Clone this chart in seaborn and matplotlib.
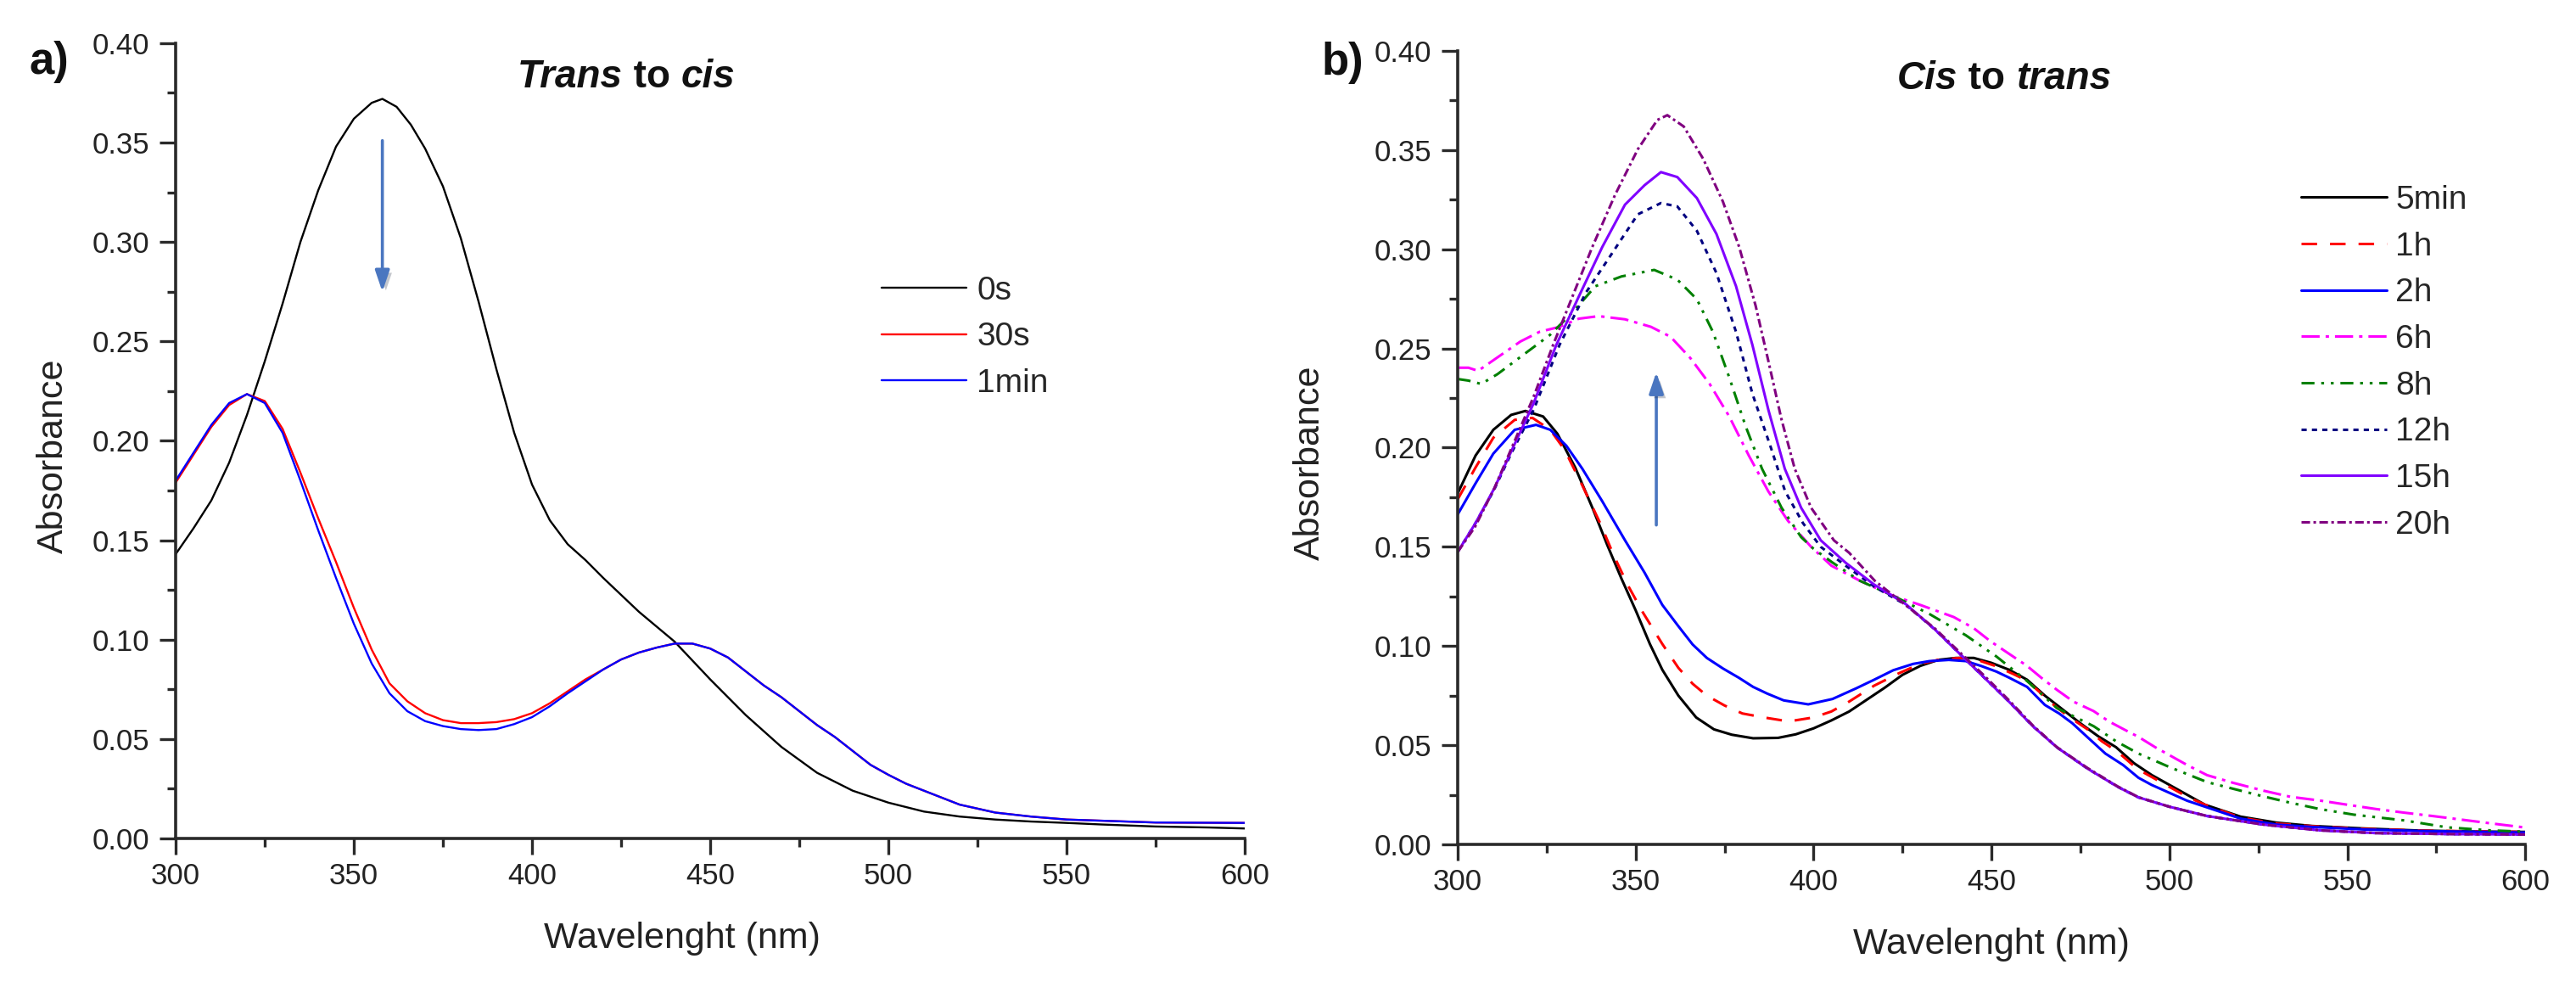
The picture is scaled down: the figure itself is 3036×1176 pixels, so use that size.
import matplotlib
matplotlib.use("Agg")
import matplotlib.pyplot as plt
import matplotlib.patheffects as pe
from matplotlib.ticker import MultipleLocator, FormatStrFormatter
import pandas as pd
import seaborn as sns

# ---------------- panel a: trans -> cis ----------------
a_labels = ["0s", "30s", "1min"]

a_wl_0s = [300, 305, 310, 315, 320, 325, 330, 335, 340, 345, 350, 355, 358, 362,
           366, 370, 375, 380, 385, 390, 395, 400, 405, 410, 415, 420, 430, 440,
           450, 460, 470, 480, 490, 500, 510, 520, 530, 540, 550, 560, 575, 590, 600]
a_abs_0s = [0.143, 0.156, 0.170, 0.189, 0.213, 0.240, 0.269, 0.300, 0.326, 0.348,
            0.362, 0.370, 0.372, 0.368, 0.359, 0.347, 0.328, 0.302, 0.270, 0.236,
            0.204, 0.178, 0.160, 0.148, 0.140, 0.131, 0.114, 0.099, 0.080, 0.062,
            0.046, 0.033, 0.024, 0.018, 0.0135, 0.011, 0.0095, 0.0085, 0.0078,
            0.007, 0.006, 0.0055, 0.005]

a_wl_30s = [300, 305, 310, 315, 320, 325, 330, 335, 340, 345, 350, 355, 360, 365,
            370, 375, 380, 385, 390, 395, 400, 405, 410, 415, 420, 425, 430, 435,
            440, 445, 450, 455, 460, 465, 470, 475, 480, 485, 490, 495, 500, 505,
            510, 520, 530, 540, 550, 575, 600]
a_abs_30s = [0.179, 0.193, 0.207, 0.218, 0.2235, 0.220, 0.206, 0.184, 0.161, 0.139,
             0.116, 0.095, 0.078, 0.069, 0.063, 0.0595, 0.058, 0.058, 0.0585, 0.060,
             0.063, 0.068, 0.074, 0.080, 0.085, 0.090, 0.0935, 0.096, 0.098, 0.098,
             0.0955, 0.091, 0.084, 0.077, 0.071, 0.064, 0.057, 0.051, 0.044, 0.037,
             0.032, 0.0275, 0.024, 0.017, 0.013, 0.011, 0.0095, 0.008, 0.0078]

a_wl_1min = a_wl_30s
a_abs_1min = [0.180, 0.194, 0.208, 0.219, 0.2235, 0.219, 0.204, 0.180, 0.155, 0.131,
              0.108, 0.088, 0.073, 0.064, 0.059, 0.0565, 0.055, 0.0545, 0.055, 0.0575,
              0.061, 0.0665, 0.073, 0.079, 0.085, 0.090, 0.0935, 0.096, 0.098, 0.098,
              0.0955, 0.091, 0.084, 0.077, 0.071, 0.064, 0.057, 0.051, 0.044, 0.037,
              0.032, 0.0275, 0.024, 0.017, 0.013, 0.011, 0.0095, 0.008, 0.0078]

# ---------------- panel b: cis -> trans ----------------
b_labels = ["5min", "1h", "2h", "6h", "8h", "12h", "15h", "20h"]

b_wl_5min = [300, 305, 310, 315, 319, 324, 328, 333, 338, 342, 346, 350, 354, 357.5,
             362, 367, 372, 377, 383, 390, 395, 400, 405, 410, 415, 420, 425, 430,
             435, 440, 445, 450, 455, 460, 465, 470, 475, 480, 485, 490, 495, 500,
             505, 510, 520, 530, 540, 555, 570, 585, 600]
b_abs_5min = [0.177, 0.196, 0.209, 0.2165, 0.2185, 0.2157, 0.207, 0.190, 0.169, 0.151,
              0.134, 0.118, 0.101, 0.088, 0.075, 0.064, 0.058, 0.0553, 0.0535, 0.0537,
              0.0555, 0.0585, 0.0625, 0.067, 0.073, 0.079, 0.0855, 0.090, 0.093, 0.094,
              0.094, 0.0915, 0.088, 0.083, 0.075, 0.068, 0.061, 0.0545, 0.049, 0.041,
              0.035, 0.030, 0.025, 0.020, 0.014, 0.011, 0.0093, 0.008, 0.007, 0.0065,
              0.0063]

b_wl_1h = [300, 305, 310, 316, 321, 326, 330, 335, 340, 344, 348, 352, 357.5, 362,
           366, 370, 375, 380, 386, 393, 400, 405, 410, 417, 424, 430, 435, 441, 446,
           451, 456, 460, 464, 468, 472, 477, 481, 485.5, 491, 495, 500, 505, 510,
           520, 530, 540, 555, 570, 585, 600]
b_abs_1h = [0.174, 0.190, 0.205, 0.214, 0.215, 0.209, 0.199, 0.181, 0.162, 0.145,
            0.130, 0.117, 0.101, 0.089, 0.081, 0.075, 0.070, 0.066, 0.064, 0.062,
            0.064, 0.067, 0.072, 0.080, 0.0863, 0.091, 0.093, 0.094, 0.093, 0.090,
            0.086, 0.0825, 0.076, 0.0695, 0.064, 0.058, 0.052, 0.0466, 0.038, 0.034,
            0.029, 0.024, 0.020, 0.0135, 0.0105, 0.0092, 0.0078, 0.007, 0.0066, 0.0063]

b_wl_2h = [300, 305, 310, 316, 322, 326, 330.5, 335, 340.6, 347, 352.5, 357.5, 362,
           366, 370, 374.6, 379, 383, 387, 391.6, 398.5, 405.3, 412, 417, 422.4, 428,
           432.6, 438, 442.8, 447, 451.4, 455, 460, 465, 469, 472.7, 477, 482, 487,
           491.3, 495, 500, 505, 510, 520, 530, 540, 555, 570, 585, 600]
b_abs_2h = [0.1664, 0.182, 0.197, 0.209, 0.2115, 0.209, 0.201, 0.1894, 0.173, 0.1533,
            0.137, 0.1207, 0.110, 0.1008, 0.094, 0.0886, 0.084, 0.0794, 0.076, 0.0726,
            0.0706, 0.0733, 0.0787, 0.083, 0.0878, 0.091, 0.0924, 0.093, 0.0924, 0.090,
            0.0871, 0.084, 0.0794, 0.0703, 0.066, 0.0611, 0.054, 0.0458, 0.040, 0.0336,
            0.030, 0.026, 0.022, 0.019, 0.013, 0.010, 0.0088, 0.0075, 0.0068, 0.0064,
            0.006]

b_wl_6h = [300, 303, 305.7, 311, 317.6, 323, 328.6, 334, 339.6, 347, 354.3, 359.8,
           365.3, 370.8, 376.3, 381.8, 387.3, 392.8, 399.3, 405, 413, 422.4, 430,
           439.4, 445, 449.7, 455, 459.9, 464, 468.4, 473, 478.7, 483, 487.2, 491.3,
           496, 500, 505, 510.6, 518, 526.4, 534, 542.3, 550, 558.2, 566, 574, 582,
           589.9, 600]
b_abs_6h = [0.2403, 0.2403, 0.2387, 0.2453, 0.2535, 0.2584, 0.2609, 0.265, 0.2663,
            0.2647, 0.2609, 0.2559, 0.2453, 0.2321, 0.2157, 0.196, 0.1779, 0.1631,
            0.150, 0.1405, 0.1329, 0.1253, 0.1207, 0.1146, 0.109, 0.1024, 0.096,
            0.0901, 0.084, 0.0779, 0.072, 0.0672, 0.062, 0.058, 0.0542, 0.049, 0.045,
            0.040, 0.0349, 0.031, 0.0271, 0.024, 0.0221, 0.020, 0.0178, 0.016, 0.0143,
            0.0125, 0.0107, 0.0085]

b_wl_8h = [300, 303, 306.6, 311.2, 318.5, 325.9, 332.3, 338.7, 346, 355.2, 361.7,
           367.2, 371.7, 376.3, 380.9, 385.5, 391, 396.5, 400, 405.3, 413, 422.4,
           432.6, 442.8, 451.4, 459.9, 468.4, 478.7, 485, 491.3, 500, 510.6, 518,
           526.4, 534, 542.3, 551.8, 566, 578, 589.9, 600]
b_abs_8h = [0.2346, 0.2338, 0.2321, 0.2371, 0.2469, 0.2568, 0.2683, 0.2814, 0.2863,
            0.2896, 0.2847, 0.2748, 0.2584, 0.2354, 0.2108, 0.1894, 0.1697, 0.1549,
            0.149, 0.1421, 0.1329, 0.1253, 0.1161, 0.1054, 0.0947, 0.0825, 0.0687,
            0.0596, 0.052, 0.0458, 0.039, 0.0314, 0.028, 0.0242, 0.021, 0.0178, 0.015,
            0.0121, 0.0086, 0.0071, 0.0064]

b_wl_12h = [300, 305, 310, 315, 321.3, 328.6, 336, 343.3, 350.6, 357.1, 361.7, 367.2,
            372.7, 378.2, 382.8, 388, 392, 397, 402, 409, 417, 426, 434, 441, 448,
            455, 461.6, 468.4, 477, 485.5, 491.3, 500, 510.6, 526.4, 542.3, 558.2,
            580, 600]
b_abs_12h = [0.1475, 0.162, 0.178, 0.197, 0.219, 0.2518, 0.2781, 0.2978, 0.3176,
             0.3233, 0.3216, 0.3093, 0.288, 0.2584, 0.2272, 0.200, 0.178, 0.162, 0.150,
             0.1405, 0.130, 0.1207, 0.1085, 0.0962, 0.084, 0.0718, 0.0596, 0.0489,
             0.0382, 0.029, 0.0237, 0.019, 0.0143, 0.010, 0.0071, 0.0057, 0.0052, 0.005]

b_wl_15h = [300, 305, 310.3, 315, 321.3, 327.7, 334.1, 340.6, 347, 352.5, 357.1,
            361.7, 367.2, 372.7, 378.2, 382.8, 387.3, 391.9, 396.5, 402, 409, 417,
            426, 434, 441, 448, 455, 461.6, 468.4, 477, 485.5, 491.3, 500, 510.6,
            526.4, 542.3, 558.2, 580, 600]
b_abs_15h = [0.1475, 0.162, 0.1796, 0.198, 0.2223, 0.2518, 0.2765, 0.3011, 0.3225,
             0.3323, 0.3389, 0.3364, 0.3258, 0.3077, 0.2814, 0.2518, 0.219, 0.1894,
             0.1697, 0.1533, 0.142, 0.131, 0.121, 0.1085, 0.0962, 0.084, 0.0718,
             0.0596, 0.0489, 0.0382, 0.029, 0.0237, 0.019, 0.0143, 0.010, 0.0071,
             0.0057, 0.0052, 0.005]

b_wl_20h = [300, 304.8, 310.3, 315.8, 321.3, 326.8, 332.3, 337.8, 344.2, 350.6,
            356.1, 358.9, 363.5, 369, 374.5, 379.1, 383.7, 387.3, 391, 394.7, 399.3,
            405.7, 410, 417.2, 425.8, 434, 441, 448, 455, 461.6, 468.4, 477, 485.5,
            491.3, 500, 510.6, 526.4, 542.3, 558.2, 580, 600]
b_abs_20h = [0.1475, 0.1599, 0.1796, 0.2026, 0.2256, 0.2518, 0.2765, 0.3011, 0.3274,
             0.3504, 0.3652, 0.3676, 0.3619, 0.3455, 0.3241, 0.3011, 0.2716, 0.2436,
             0.2141, 0.1894, 0.1697, 0.1533, 0.147, 0.1329, 0.1207, 0.109, 0.097,
             0.085, 0.0725, 0.060, 0.049, 0.0385, 0.0292, 0.0238, 0.019, 0.0143, 0.010,
             0.0071, 0.0057, 0.0052, 0.005]

a_series = {"0s": (a_wl_0s, a_abs_0s), "30s": (a_wl_30s, a_abs_30s),
            "1min": (a_wl_1min, a_abs_1min)}
b_series = {"5min": (b_wl_5min, b_abs_5min), "1h": (b_wl_1h, b_abs_1h),
            "2h": (b_wl_2h, b_abs_2h), "6h": (b_wl_6h, b_abs_6h),
            "8h": (b_wl_8h, b_abs_8h), "12h": (b_wl_12h, b_abs_12h),
            "15h": (b_wl_15h, b_abs_15h), "20h": (b_wl_20h, b_abs_20h)}


def to_long(series):
    rows = []
    for name, (wl, ab) in series.items():
        for w, v in zip(wl, ab):
            rows.append({"wl": w, "abs": v, "t": name})
    return pd.DataFrame(rows)


df_a = to_long(a_series)
df_b = to_long(b_series)

a_colors = {"0s": "#000000", "30s": "#ff0000", "1min": "#0000ff"}
a_dashes = {"0s": "", "30s": "", "1min": ""}
b_colors = {"5min": "#000000", "1h": "#ff0000", "2h": "#0000ff", "6h": "#ff00ff",
            "8h": "#008000", "12h": "#000080", "15h": "#8000ff", "20h": "#800080"}
b_dashes = {"5min": "", "1h": (6, 5), "2h": "", "6h": (7, 2.3, 1.3, 2.3),
            "8h": (5, 2.6, 1.1, 2.6, 1.1, 2.6), "12h": (2, 2), "15h": "",
            "20h": (3.3, 1.3, 1, 1.3)}

sns.set_theme(style="ticks")
plt.rcParams["font.family"] = ["Liberation Sans", "DejaVu Sans"]
plt.rcParams["axes.edgecolor"] = "#2a2a2a"

fig = plt.figure(figsize=(30.36, 11.76), dpi=100)
ax_a = fig.add_axes([0.0682, 0.1599, 0.4150, 0.7968])
ax_b = fig.add_axes([0.5659, 0.1539, 0.4144, 0.7951])

sns.lineplot(data=df_a, x="wl", y="abs", hue="t", style="t",
             hue_order=a_labels, style_order=a_labels,
             palette=a_colors, dashes=a_dashes, linewidth=1.7,
             estimator=None, sort=False, ax=ax_a)
sns.lineplot(data=df_b, x="wl", y="abs", hue="t", style="t",
             hue_order=b_labels, style_order=b_labels,
             palette=b_colors, dashes=b_dashes, linewidth=2.2,
             estimator=None, sort=False, ax=ax_b)

for ax in (ax_a, ax_b):
    ax.set_xlim(300, 600)
    ax.set_ylim(0, 0.40)
    ax.xaxis.set_major_locator(MultipleLocator(50))
    ax.xaxis.set_minor_locator(MultipleLocator(25))
    ax.yaxis.set_major_locator(MultipleLocator(0.05))
    ax.yaxis.set_minor_locator(MultipleLocator(0.025))
    ax.yaxis.set_major_formatter(FormatStrFormatter("%.2f"))
    ax.spines["top"].set_visible(False)
    ax.spines["right"].set_visible(False)
    for s in ("left", "bottom"):
        ax.spines[s].set_linewidth(2.6)
    ax.tick_params(which="major", direction="out", length=14, width=2.4,
                   color="#2a2a2a", labelsize=25, labelcolor="#222222")
    ax.tick_params(which="minor", direction="out", length=7, width=2.4,
                   color="#2a2a2a")
    ax.tick_params(axis="y", which="major", pad=8)
    ax.tick_params(axis="x", which="major", pad=6)
    ax.set_xlabel("Wavelenght (nm)", fontsize=31, labelpad=27, color="#222222")
    ax.set_facecolor("white")

ax_a.set_ylabel("Absorbance", fontsize=31, labelpad=19, color="#222222")
ax_b.set_ylabel("Absorbance", fontsize=31, labelpad=40, color="#222222")
ax_a.yaxis.label.set_y(0.481)
ax_b.yaxis.label.set_y(0.481)
ax_a.xaxis.label.set_x(0.474)

# legends
for ax, anchor, pad in ((ax_a, (0.66, 0.708), 0.31), (ax_b, (0.79, 0.831), 0.27)):
    handles, labels = ax.get_legend_handles_labels()
    ax.legend(handles, labels, loc="upper left", bbox_to_anchor=anchor,
              frameon=False, fontsize=28, handlelength=2.59, handletextpad=pad,
              labelspacing=0.48, borderpad=0, borderaxespad=0)


# titles with mixed italic / upright bold pieces
def mixed_title(ax, x, y, parts):
    t = ax.text(x, y, parts[0][0], fontsize=33, fontweight="bold",
                fontstyle=parts[0][1], ha="left", va="center", color="#111111")
    for txt, st in parts[1:]:
        t = ax.annotate(txt, xy=(1, 0), xycoords=t, ha="left", va="bottom",
                        fontsize=33, fontweight="bold", fontstyle=st,
                        color="#111111")


mixed_title(ax_a, 396, 0.383, [("Trans", "italic"), (" to ", "normal"),
                               ("cis", "italic")])
mixed_title(ax_b, 423.5, 0.386, [("Cis", "italic"), (" to ", "normal"),
                                 ("trans", "italic")])

# arrows
shadow = [pe.SimplePatchShadow(offset=(3, -3), alpha=0.25), pe.Normal()]
arrow_kw = dict(arrowstyle="-|>,head_length=0.5,head_width=0.17", color="#4a76c0",
                lw=2.6, mutation_scale=30, shrinkA=0, shrinkB=0)
ar1 = ax_a.annotate("", xy=(358, 0.275), xytext=(358, 0.351), arrowprops=arrow_kw)
ar2 = ax_b.annotate("", xy=(355.8, 0.238), xytext=(355.8, 0.161), arrowprops=arrow_kw)
ar1.arrow_patch.set_path_effects(shadow)
ar2.arrow_patch.set_path_effects(shadow)

fig.text(0.0115, 0.9375, "a)", fontsize=38, fontweight="bold", ha="left",
         va="center", color="#111111")
fig.text(0.5129, 0.937, "b)", fontsize=38, fontweight="bold", ha="left",
         va="center", color="#111111")

fig.savefig("out.png", dpi=100, facecolor="white")
